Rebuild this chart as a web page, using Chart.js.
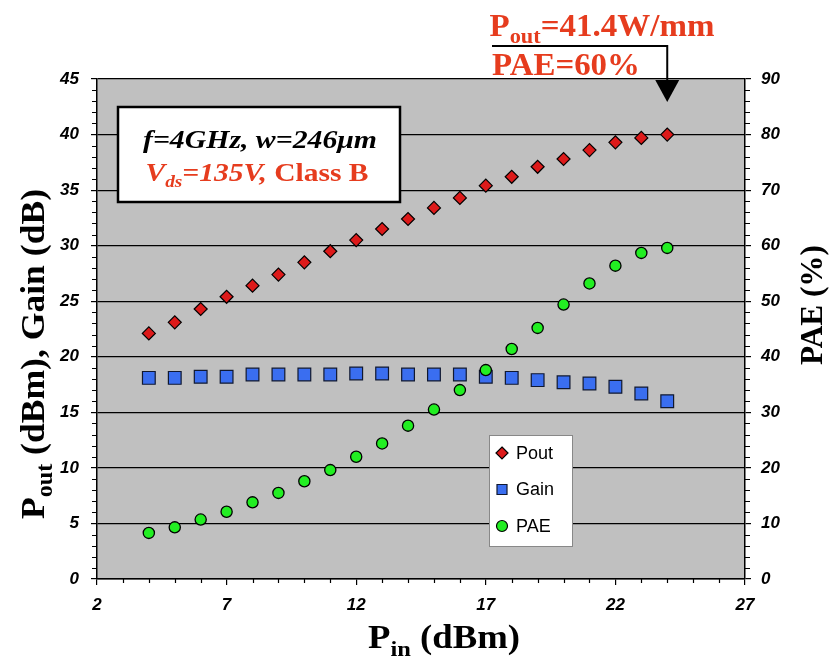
<!DOCTYPE html>
<html>
<head>
<meta charset="UTF-8">
<title>Pout, Gain, PAE vs Pin</title>
<script src="https://cdn.jsdelivr.net/npm/chart.js"></script>
<style>
  html, body { margin: 0; padding: 0; background: #fff; }
</style>
</head>
<body>
<canvas id="chart" width="830" height="663"></canvas>
<script>
const pin  = [4, 5, 6, 7, 8, 9, 10, 11, 12, 13, 14, 15, 16, 17, 18, 19, 20, 21, 22, 23, 24];
const pout = [22.1, 23.1, 24.3, 25.4, 26.4, 27.4, 28.5, 29.5, 30.5, 31.5, 32.4, 33.4, 34.3, 35.4, 36.2, 37.1, 37.8, 38.6, 39.3, 39.7, 40.0];
const gain = [18.1, 18.1, 18.2, 18.2, 18.4, 18.4, 18.4, 18.4, 18.5, 18.5, 18.4, 18.4, 18.4, 18.2, 18.1, 17.9, 17.7, 17.6, 17.3, 16.7, 16.0];
const pae  = [8.3, 9.3, 10.7, 12.1, 13.8, 15.5, 17.6, 19.6, 22.0, 24.4, 27.6, 30.5, 34.0, 37.6, 41.4, 45.2, 49.4, 53.2, 56.4, 58.7, 59.6];
const seriesNames = ["Pout", "Gain", "PAE"];

const RED_TXT = "#e63c1e";
const serif = "'Liberation Serif', 'Times New Roman', serif";
const sans = "'Liberation Sans', Arial, sans-serif";

function pts(ys) {
  return pin.map((x, i) => ({ x: x, y: ys[i] }));
}

// draw text made of runs [text, font, color, dy], centred on x,
// stretched sideways to a target width when one is given
function drawRuns(ctx, runs, x, y, target) {
  let w = 0;
  runs.forEach(r => { ctx.font = r[1]; w += ctx.measureText(r[0]).width; });
  const k = target ? target / w : 1;
  ctx.save();
  ctx.translate(x, y);
  ctx.scale(k, 1);
  let cx = -w / 2;
  ctx.textAlign = "left";
  ctx.textBaseline = "alphabetic";
  runs.forEach(r => {
    ctx.font = r[1];
    ctx.fillStyle = r[2];
    ctx.fillText(r[0], cx, r[3] || 0);
    cx += ctx.measureText(r[0]).width;
  });
  ctx.restore();
}

const extras = {
  id: "extras",
  beforeDraw(chart) {
    const { ctx, chartArea: a } = chart;
    ctx.save();
    ctx.fillStyle = "#c0c0c0";
    ctx.fillRect(a.left, a.top, a.right - a.left, a.bottom - a.top);
    ctx.restore();
  },
  afterDraw(chart) {
    const { ctx, chartArea: a, scales } = chart;
    const xs = scales.x, yl = scales.y, yr = scales.y1;
    ctx.save();

    // minor ticks
    ctx.strokeStyle = "#000";
    ctx.lineWidth = 1.2;
    ctx.beginPath();
    for (let v = 0; v <= 45; v++) {
      if (v % 5 === 0) continue;
      const py = Math.round(yl.getPixelForValue(v)) + 0.5;
      ctx.moveTo(a.left - 5, py); ctx.lineTo(a.left, py);
    }
    for (let v = 0; v <= 90; v += 2) {
      if (v % 10 === 0) continue;
      const py = Math.round(yr.getPixelForValue(v)) + 0.5;
      ctx.moveTo(a.right, py); ctx.lineTo(a.right + 5, py);
    }
    for (let v = 2; v <= 27; v++) {
      if ((v - 2) % 5 === 0) continue;
      const px = Math.round(xs.getPixelForValue(v)) + 0.5;
      ctx.moveTo(px, a.bottom); ctx.lineTo(px, a.bottom + 4);
    }
    ctx.stroke();

    // condition box
    ctx.fillStyle = "#fff";
    ctx.fillRect(118, 107, 282, 95);
    ctx.lineWidth = 2.5;
    ctx.strokeStyle = "#000";
    ctx.strokeRect(118, 107, 282, 95);
    drawRuns(ctx, [
      ["f=4GHz, w=246\u03bcm", "italic bold 26px " + serif, "#000"]
    ], 260, 148, 234);
    drawRuns(ctx, [
      ["V", "italic bold 26px " + serif, RED_TXT],
      ["ds", "italic bold 17px " + serif, RED_TXT, 6],
      ["=135V, ", "italic bold 26px " + serif, RED_TXT],
      ["Class B", "bold 26px " + serif, RED_TXT]
    ], 257, 181, 223);

    // top note with arrow
    const ax = xs.getPixelForValue(24);
    drawRuns(ctx, [
      ["P", "bold 31px " + serif, RED_TXT],
      ["out", "bold 21px " + serif, RED_TXT, 7],
      ["=41.4W/mm", "bold 31px " + serif, RED_TXT]
    ], 602, 36, 225);
    drawRuns(ctx, [["PAE=60%", "bold 31px " + serif, RED_TXT]], 566, 75, 148);
    ctx.strokeStyle = "#000";
    ctx.lineWidth = 2;
    ctx.beginPath();
    ctx.moveTo(492, 46); ctx.lineTo(ax, 46); ctx.lineTo(ax, 84);
    ctx.stroke();
    ctx.fillStyle = "#000";
    ctx.beginPath();
    ctx.moveTo(ax - 12, 80); ctx.lineTo(ax + 12, 80); ctx.lineTo(ax, 102);
    ctx.closePath();
    ctx.fill();

    // legend
    ctx.fillStyle = "#fff";
    ctx.fillRect(489, 435, 83, 111);
    ctx.strokeStyle = "#888";
    ctx.lineWidth = 1;
    ctx.strokeRect(489.5, 435.5, 83, 111);
    chart.data.datasets.forEach((ds, i) => {
      const ly = 453 + i * 36.5;
      ctx.save();
      ctx.fillStyle = ds.backgroundColor;
      ctx.strokeStyle = ds.borderColor;
      ctx.lineWidth = 1.2;
      ctx.beginPath();
      if (ds.pointStyle === "rectRot") {
        ctx.moveTo(502, ly - 6); ctx.lineTo(508, ly); ctx.lineTo(502, ly + 6); ctx.lineTo(496, ly);
        ctx.closePath();
      } else if (ds.pointStyle === "rect") {
        ctx.rect(497, ly - 5, 10, 10);
      } else {
        ctx.arc(502, ly, 5.5, 0, Math.PI * 2);
      }
      ctx.fill(); ctx.stroke();
      ctx.restore();
      ctx.fillStyle = "#000";
      ctx.font = "18px " + sans;
      ctx.textAlign = "left";
      ctx.textBaseline = "middle";
      ctx.fillText(seriesNames[i], 516, ly + 1);
    });

    // axis titles
    ctx.save();
    ctx.translate(44, 354);
    ctx.rotate(-Math.PI / 2);
    drawRuns(ctx, [
      ["P", "bold 34px " + serif, "#000"],
      ["out", "bold 23px " + serif, "#000", 8],
      [" (dBm), Gain (dB)", "bold 34px " + serif, "#000"]
    ], 0, 0, 330);
    ctx.restore();

    ctx.save();
    ctx.translate(822, 305);
    ctx.rotate(-Math.PI / 2);
    drawRuns(ctx, [["PAE (%)", "bold 32px " + serif, "#000"]], 0, 0, 120);
    ctx.restore();

    drawRuns(ctx, [
      ["P", "bold 33px " + serif, "#000"],
      ["in", "bold 22px " + serif, "#000", 8],
      [" (dBm)", "bold 33px " + serif, "#000"]
    ], 444, 648, 152);

    ctx.restore();
  }
};

const tickFont = { family: sans, size: 17, weight: "bold", style: "italic" };

new Chart(document.getElementById("chart"), {
  type: "scatter",
  data: {
    datasets: [
      {
        label: seriesNames[0], data: pts(pout), yAxisID: "y", order: 2,
        pointStyle: "rectRot", pointRadius: 6.5, backgroundColor: "#dd1a1a",
        borderColor: "#000", borderWidth: 1.2
      },
      {
        label: seriesNames[1], data: pts(gain), yAxisID: "y", order: 3,
        pointStyle: "rect", pointRadius: 9, backgroundColor: "#3a6ef0",
        borderColor: "#101830", borderWidth: 1.2
      },
      {
        label: seriesNames[2], data: pts(pae), yAxisID: "y1", order: 1,
        pointStyle: "circle", pointRadius: 5.6, backgroundColor: "#22ee22",
        borderColor: "#000", borderWidth: 1.3
      }
    ]
  },
  options: {
    responsive: false,
    animation: false,
    events: [],
    layout: { padding: { top: 79, left: 0, right: 0, bottom: 0 } },
    plugins: { legend: { display: false }, tooltip: { enabled: false } },
    scales: {
      x: {
        type: "linear", min: 2, max: 27,
        ticks: { stepSize: 5, font: tickFont, color: "#000", padding: 10 },
        grid: { drawOnChartArea: false, drawTicks: true, tickLength: 6, color: "#000", lineWidth: 1.2 },
        border: { color: "#000", width: 1.5 },
        afterFit(s) { s.height = 84; }
      },
      y: {
        position: "left", min: 0, max: 45,
        ticks: { stepSize: 5, font: tickFont, color: "#000", padding: 12 },
        grid: { color: "#000", lineWidth: 1.2, tickLength: 6 },
        border: { color: "#000", width: 1.5 },
        afterFit(s) { s.width = 97; }
      },
      y1: {
        position: "right", min: 0, max: 90,
        ticks: { stepSize: 10, font: tickFont, color: "#000", padding: 10 },
        grid: { drawOnChartArea: false, drawTicks: true, tickLength: 6, color: "#000", lineWidth: 1.2 },
        border: { color: "#000", width: 1.5 },
        afterFit(s) { s.width = 85; }
      }
    }
  },
  plugins: [extras]
});
</script>
</body>
</html>
